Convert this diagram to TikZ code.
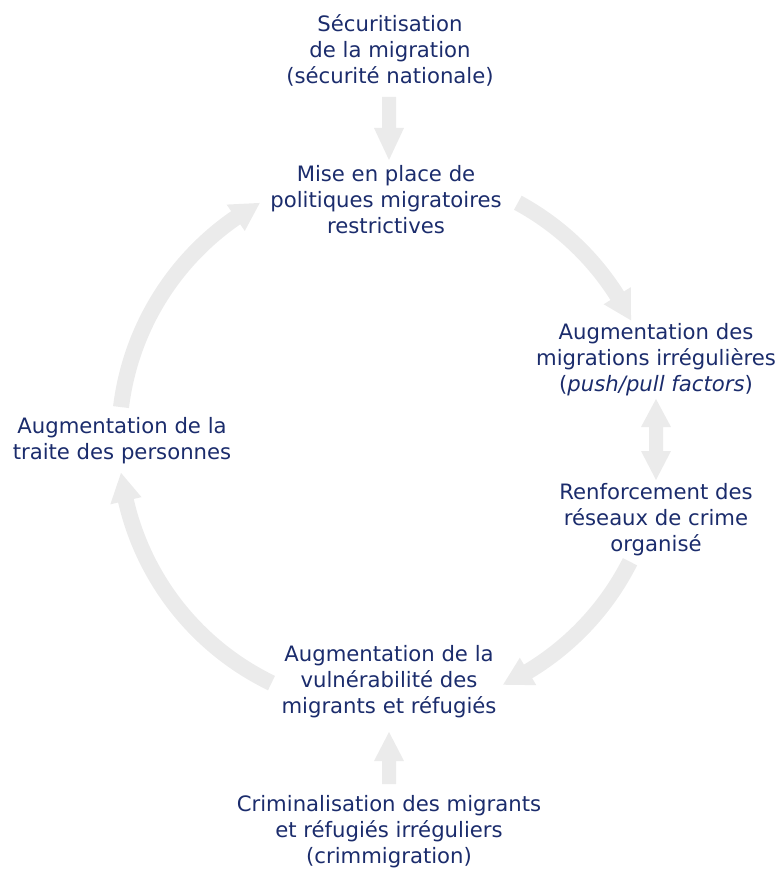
\documentclass[tikz,border=0pt]{standalone}
\usepackage{fontspec}
\setmainfont{DejaVu Sans}
\definecolor{txt}{HTML}{1B2C6C}
\definecolor{arr}{HTML}{EBEBEB}
\tikzset{
  lbl/.style={text=txt, align=center, inner sep=0pt, font=\fontsize{21.2}{26}\selectfont},
  blk/.style={fill=arr, draw=none}
}
% start angle, head-base angle, tip angle
\newcommand{\cycarrow}[3]{%
  \fill[blk] (#1:278pt) arc[start angle=#1, end angle=#2, radius=278pt]
    -- (#2:286pt) -- (#3:270pt) -- (#2:254pt) -- (#2:262pt)
    arc[start angle=#2, end angle=#1, radius=262pt] -- cycle;}
\begin{document}
\begin{tikzpicture}[x=1pt,y=1pt]
\useasboundingbox (0,0) rectangle (779,-869);
% text nodes
\node[lbl] (sec) at (390,-50) {Sécuritisation\\de la migration\\(sécurité nationale)};
\node[lbl] (pol) at (386,-200) {Mise en place de\\politiques migratoires\\restrictives};
\node[lbl] (irr) at (656,-360) {Augmentation des\\migrations irrégulières\\(\textit{push/pull factors})};
\node[lbl] (crime) at (656,-520) {Renforcement des\\réseaux de crime\\organisé};
\node[lbl] (vul) at (389,-682) {Augmentation de la\\vulnérabilité des\\migrants et réfugiés};
\node[lbl] (crim) at (389,-832) {Criminalisation des migrants\\et réfugiés irréguliers\\(crimmigration)};
\node[lbl] (trai) at (122,-441) {Augmentation de la\\traite des personnes};
% cycle arrows
\coordinate (ctr) at (389,-440);
\begin{scope}[shift={(ctr)}]
  \cycarrow{61.5}{32.3}{26.3}
  \cycarrow{-26.8}{-59}{-65}
  \cycarrow{244.2}{193}{187}
  \cycarrow{173}{124.6}{118.6}
\end{scope}
% straight arrows
\fill[blk] (382,-97) -- (396,-97) -- (396,-128) -- (404,-128) -- (389,-160)
  -- (374,-128) -- (382,-128) -- cycle;
\fill[blk] (382,-784) -- (396,-784) -- (396,-761) -- (404,-761) -- (389,-732)
  -- (374,-761) -- (382,-761) -- cycle;
\fill[blk] (656,-399) -- (671,-427) -- (663,-427) -- (663,-451) -- (671,-451)
  -- (656,-480) -- (641,-451) -- (649,-451) -- (649,-427) -- (641,-427) -- cycle;
\end{tikzpicture}
\end{document}
